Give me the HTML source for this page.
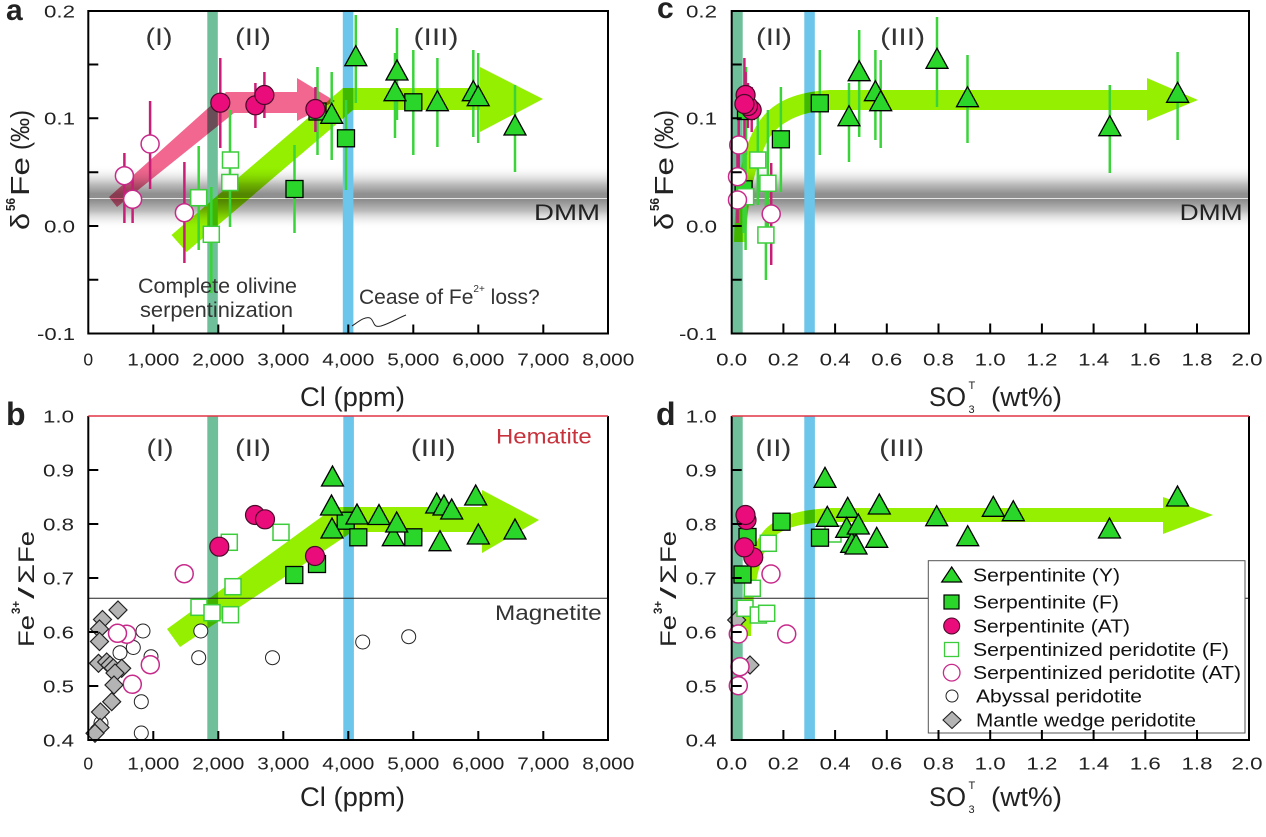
<!DOCTYPE html>
<html><head><meta charset="utf-8"><style>
html,body{margin:0;padding:0;background:#fff;}
svg{display:block;font-family:"Liberation Sans",Arial,sans-serif;}
.tk{font-size:17.5px;fill:#222;}
.rn{font-size:24px;fill:#333;}
.at{font-size:27px;fill:#222;}
.lg{font-size:18px;fill:#111;}
.ge{stroke:#3ad43a;stroke-width:2.5;}
.pe{stroke:#c81e78;stroke-width:2.5;}
.ar{mix-blend-mode:multiply;}
</style></head><body>
<svg width="1266" height="837" viewBox="0 0 1266 837" xmlns="http://www.w3.org/2000/svg">
<defs>
<linearGradient id="dmm" x1="0" y1="0" x2="0" y2="1">
<stop offset="0" stop-color="#fff" stop-opacity="0"/>
<stop offset="0.3" stop-color="#bdbdbd"/>
<stop offset="0.45" stop-color="#909090"/>
<stop offset="0.55" stop-color="#8e8e8e"/>
<stop offset="0.72" stop-color="#bdbdbd"/>
<stop offset="1" stop-color="#fff" stop-opacity="0"/>
</linearGradient>
<polygon id="tri" points="0,-11 -11,9 11,9" fill="#2ad62a" stroke="#000" stroke-width="1.3"/>
<rect id="sq" x="-8.5" y="-8.5" width="17" height="17" fill="#2ad62a" stroke="#000" stroke-width="1.3"/>
<circle id="pc" r="9.5" fill="#ea0c7a" stroke="#4a0a2a" stroke-width="1.2"/>
<rect id="osq" x="-8" y="-8" width="16" height="16" fill="#fff" stroke="#3ccc3c" stroke-width="1.5"/>
<circle id="opc" r="9" fill="#fff" stroke="#c82a8a" stroke-width="1.5"/>
<circle id="ac" r="7" fill="#fff" stroke="#222" stroke-width="1"/>
<polygon id="dia" points="0,-9 9,0 0,9 -9,0" fill="#b4b4b4" stroke="#222" stroke-width="1.2"/>
</defs>

<!-- ================= PANEL A ================= -->
<rect x="88.3" y="165" width="519.7" height="64" fill="url(#dmm)"/>
<line x1="88.3" y1="198.5" x2="608" y2="198.5" stroke="#e6e6e6" stroke-width="1"/>
<rect x="207.3" y="11" width="10.5" height="322.5" fill="#6fbf9a"/>
<rect x="342.8" y="11" width="10.6" height="322.5" fill="#6cc5ea"/>
<g class="ar"><polygon points="109,197 226,92 297,92 297,78 335,101 297,121 297,113 234,113 117,207" fill="#f2678f"/></g>
<g class="ar"><polygon points="171.5,235 343,88 480,88 480,67 543,99 480,132 480,110 353,110 186.5,252" fill="#94f000"/></g>
<line class="ge" x1="198.7" y1="146" x2="198.7" y2="250"/>
<line class="ge" x1="211.3" y1="187" x2="211.3" y2="293"/>
<line class="ge" x1="230" y1="110" x2="230" y2="227"/>
<line class="ge" x1="294.5" y1="145" x2="294.5" y2="233"/>
<line class="ge" x1="346" y1="100" x2="346" y2="190"/>
<line class="ge" x1="413.3" y1="50" x2="413.3" y2="155"/>
<line class="ge" x1="317.5" y1="67" x2="317.5" y2="155"/>
<line class="ge" x1="331.7" y1="72" x2="331.7" y2="160"/>
<line class="ge" x1="355.8" y1="15" x2="355.8" y2="103"/>
<line class="ge" x1="397" y1="28" x2="397" y2="120"/>
<line class="ge" x1="395" y1="53" x2="395" y2="138"/>
<line class="ge" x1="437.4" y1="58" x2="437.4" y2="147"/>
<line class="ge" x1="473.3" y1="50" x2="473.3" y2="137"/>
<line class="ge" x1="478.2" y1="53" x2="478.2" y2="143"/>
<line class="ge" x1="515" y1="85" x2="515" y2="172"/>
<line class="pe" x1="124.4" y1="153" x2="124.4" y2="223"/>
<line class="pe" x1="132.6" y1="173" x2="132.6" y2="223"/>
<line class="pe" x1="150.1" y1="101" x2="150.1" y2="189"/>
<line class="pe" x1="184.4" y1="162" x2="184.4" y2="263"/>
<line class="pe" x1="220.3" y1="58" x2="220.3" y2="148"/>
<line class="pe" x1="255.4" y1="83" x2="255.4" y2="128"/>
<line class="pe" x1="264.4" y1="72" x2="264.4" y2="118"/>
<line class="pe" x1="315.4" y1="87" x2="315.4" y2="132"/>
<use href="#opc" x="124.4" y="175.7"/>
<use href="#opc" x="132.6" y="199.3"/>
<use href="#opc" x="150.1" y="144"/>
<use href="#opc" x="184.4" y="212.7"/>
<use href="#osq" x="198.7" y="197.7"/>
<use href="#osq" x="211.3" y="234.3"/>
<use href="#osq" x="230.5" y="160"/>
<use href="#osq" x="229.8" y="182.5"/>
<use href="#sq" x="294.5" y="189"/>
<use href="#sq" x="346" y="138.3"/>
<use href="#sq" x="413.3" y="102.3"/>
<use href="#sq" x="317.5" y="111.5"/>
<use href="#pc" x="220.3" y="102.7"/>
<use href="#pc" x="255.4" y="105.3"/>
<use href="#pc" x="264.4" y="95"/>
<use href="#pc" x="315.4" y="109"/>
<use href="#tri" x="331.7" y="114.3"/>
<use href="#tri" x="355.8" y="56.7"/>
<use href="#tri" x="397" y="71"/>
<use href="#tri" x="395" y="91.7"/>
<use href="#tri" x="437.4" y="101.7"/>
<use href="#tri" x="473.3" y="91.7"/>
<use href="#tri" x="478.2" y="96.7"/>
<use href="#tri" x="515" y="126"/>
<text class="rn" x="159" y="45" text-anchor="middle" textLength="27" lengthAdjust="spacingAndGlyphs">(I)</text>
<text class="rn" x="253" y="45" text-anchor="middle" textLength="36" lengthAdjust="spacingAndGlyphs">(II)</text>
<text class="rn" x="436" y="45" text-anchor="middle" textLength="45" lengthAdjust="spacingAndGlyphs">(III)</text>
<text x="534" y="220" font-size="22" fill="#222" textLength="66" lengthAdjust="spacingAndGlyphs">DMM</text>
<text x="138" y="293" font-size="21" fill="#333" textLength="159" lengthAdjust="spacingAndGlyphs">Complete olivine</text>
<text x="140" y="317" font-size="21" fill="#333" textLength="153" lengthAdjust="spacingAndGlyphs">serpentinization</text>
<text x="359" y="304" font-size="21" fill="#333">Cease of Fe<tspan font-size="10" dy="-12">2+</tspan><tspan dy="12"> loss?</tspan></text>
<path d="M352,326 C358,322 365,316 370,318 C375,321 372,328 381,326 C391,323 398,318 406,315" fill="none" stroke="#222" stroke-width="1"/>
<rect x="88.3" y="11" width="519.7" height="322.5" fill="none" stroke="#000" stroke-width="2"/>
<path d="M153.3,333.5v-9M218.3,333.5v-9M283.3,333.5v-9M348.3,333.5v-9M413.3,333.5v-9M478.3,333.5v-9M543.3,333.5v-9M88.3,64.5h10M88.3,118.3h10M88.3,172.2h10M88.3,226h10M88.3,279.8h10" stroke="#000" stroke-width="2"/>
<g class="tk" text-anchor="middle">
<text x="88.3" y="365.5">0</text>
<text x="153.3" y="365.5" textLength="52" lengthAdjust="spacingAndGlyphs">1,000</text>
<text x="218.3" y="365.5" textLength="52" lengthAdjust="spacingAndGlyphs">2,000</text>
<text x="283.3" y="365.5" textLength="52" lengthAdjust="spacingAndGlyphs">3,000</text>
<text x="348.3" y="365.5" textLength="52" lengthAdjust="spacingAndGlyphs">4,000</text>
<text x="413.3" y="365.5" textLength="52" lengthAdjust="spacingAndGlyphs">5,000</text>
<text x="478.3" y="365.5" textLength="52" lengthAdjust="spacingAndGlyphs">6,000</text>
<text x="543.3" y="365.5" textLength="52" lengthAdjust="spacingAndGlyphs">7,000</text>
<text x="608.3" y="365.5" textLength="52" lengthAdjust="spacingAndGlyphs">8,000</text>
</g>
<g class="tk" text-anchor="end">
<text x="75" y="17.5" textLength="31" lengthAdjust="spacingAndGlyphs">0.2</text>
<text x="75" y="124.6" textLength="31" lengthAdjust="spacingAndGlyphs">0.1</text>
<text x="75" y="232.3" textLength="31" lengthAdjust="spacingAndGlyphs">0.0</text>
<text x="75" y="340" textLength="38" lengthAdjust="spacingAndGlyphs">-0.1</text>
</g>
<text class="at" x="300" y="406" textLength="105" lengthAdjust="spacingAndGlyphs">Cl (ppm)</text>
<g transform="translate(29,230) rotate(-90)" fill="#222">
<text x="0" y="0" font-size="26" textLength="17" lengthAdjust="spacingAndGlyphs">δ</text>
<text x="19" y="-14" font-size="13" font-weight="bold" textLength="13" lengthAdjust="spacingAndGlyphs">56</text>
<text x="34" y="0" font-size="26" textLength="39" lengthAdjust="spacingAndGlyphs">Fe</text>
<text x="80" y="0" font-size="26" textLength="40" lengthAdjust="spacingAndGlyphs">(‰)</text>
</g>
<text x="6" y="20" font-size="30" font-weight="bold" fill="#222">a</text>

<!-- ================= PANEL C ================= -->
<rect x="731.7" y="165" width="517.3" height="64" fill="url(#dmm)"/>
<line x1="731.7" y1="198.5" x2="1249" y2="198.5" stroke="#e6e6e6" stroke-width="1"/>
<rect x="731.7" y="11" width="11" height="322.5" fill="#6fbf9a"/>
<rect x="804.3" y="11" width="10.5" height="322.5" fill="#6cc5ea"/>
<g class="ar"><path d="M734,242 C735,190 742,150 755,128 C768,105 790,92 830,90 L1147,90 L1147,78 L1198,100 L1147,121 L1147,110 L830,110 C805,111 780,120 768,140 C755,165 747,200 746,242 Z" fill="#94f000"/></g>
<line class="ge" x1="859.2" y1="30" x2="859.2" y2="137"/>
<line class="ge" x1="849" y1="83" x2="849" y2="162"/>
<line class="ge" x1="875.4" y1="50" x2="875.4" y2="140"/>
<line class="ge" x1="880.7" y1="60" x2="880.7" y2="148"/>
<line class="ge" x1="937" y1="17" x2="937" y2="107"/>
<line class="ge" x1="967.5" y1="55" x2="967.5" y2="143"/>
<line class="ge" x1="1109.8" y1="85" x2="1109.8" y2="173"/>
<line class="ge" x1="1177.6" y1="52" x2="1177.6" y2="140"/>
<line class="ge" x1="819.8" y1="50" x2="819.8" y2="155"/>
<line class="ge" x1="780.9" y1="87" x2="780.9" y2="192"/>
<line class="ge" x1="743.6" y1="145" x2="743.6" y2="233"/>
<line class="ge" x1="746" y1="67" x2="746" y2="155"/>
<line class="ge" x1="757.8" y1="110" x2="757.8" y2="205"/>
<line class="ge" x1="767.9" y1="110" x2="767.9" y2="227"/>
<line class="ge" x1="765.9" y1="187" x2="765.9" y2="280"/>
<line class="ge" x1="745.6" y1="146" x2="745.6" y2="250"/>
<line class="pe" x1="745.6" y1="72" x2="745.6" y2="118"/>
<line class="pe" x1="744.4" y1="58" x2="744.4" y2="148"/>
<line class="pe" x1="751.7" y1="87" x2="751.7" y2="132"/>
<line class="pe" x1="748" y1="83" x2="748" y2="128"/>
<line class="pe" x1="738.7" y1="101" x2="738.7" y2="189"/>
<line class="pe" x1="737.5" y1="153" x2="737.5" y2="223"/>
<line class="pe" x1="737.5" y1="173" x2="737.5" y2="223"/>
<line class="pe" x1="771.2" y1="163" x2="771.2" y2="265"/>
<use href="#sq" x="743.6" y="189.3"/>
<use href="#osq" x="745.6" y="196.7"/>
<use href="#osq" x="757.8" y="160"/>
<use href="#osq" x="767.9" y="183.3"/>
<use href="#osq" x="765.9" y="235"/>
<use href="#opc" x="738.7" y="145"/>
<use href="#opc" x="737.5" y="176.7"/>
<use href="#opc" x="737.5" y="200"/>
<use href="#opc" x="771.2" y="214"/>
<use href="#sq" x="746" y="111"/>
<use href="#sq" x="780.9" y="139.3"/>
<use href="#sq" x="819.8" y="103.3"/>
<use href="#pc" x="751.7" y="110"/>
<use href="#pc" x="748" y="106"/>
<use href="#pc" x="745.6" y="95"/>
<use href="#pc" x="744.4" y="104"/>
<use href="#tri" x="859.2" y="71.7"/>
<use href="#tri" x="849" y="116.7"/>
<use href="#tri" x="875.4" y="91.7"/>
<use href="#tri" x="880.7" y="101.7"/>
<use href="#tri" x="937" y="59.3"/>
<use href="#tri" x="967.5" y="97.7"/>
<use href="#tri" x="1109.8" y="126.7"/>
<use href="#tri" x="1177.6" y="93.3"/>
<text class="rn" x="774" y="45" text-anchor="middle" textLength="36" lengthAdjust="spacingAndGlyphs">(II)</text>
<text class="rn" x="902.6" y="45" text-anchor="middle" textLength="45" lengthAdjust="spacingAndGlyphs">(III)</text>
<text x="1179.6" y="220" font-size="22" fill="#222" textLength="63" lengthAdjust="spacingAndGlyphs">DMM</text>
<rect x="731.7" y="11" width="517.3" height="322.5" fill="none" stroke="#000" stroke-width="2"/>
<path d="M783.4,333.5v-10M835.1,333.5v-10M886.8,333.5v-10M938.5,333.5v-10M990.2,333.5v-10M1041.9,333.5v-10M1093.6,333.5v-10M1145.3,333.5v-10M1197,333.5v-10M731.7,64.5h10M731.7,118.3h10M731.7,172.2h10M731.7,226h10M731.7,279.8h10" stroke="#000" stroke-width="2"/>
<g class="tk" text-anchor="middle">
<text x="731.7" y="365.5" textLength="31" lengthAdjust="spacingAndGlyphs">0.0</text>
<text x="783.4" y="365.5" textLength="31" lengthAdjust="spacingAndGlyphs">0.2</text>
<text x="835.1" y="365.5" textLength="31" lengthAdjust="spacingAndGlyphs">0.4</text>
<text x="886.8" y="365.5" textLength="31" lengthAdjust="spacingAndGlyphs">0.6</text>
<text x="938.5" y="365.5" textLength="31" lengthAdjust="spacingAndGlyphs">0.8</text>
<text x="990.2" y="365.5" textLength="31" lengthAdjust="spacingAndGlyphs">1.0</text>
<text x="1041.9" y="365.5" textLength="31" lengthAdjust="spacingAndGlyphs">1.2</text>
<text x="1093.6" y="365.5" textLength="31" lengthAdjust="spacingAndGlyphs">1.4</text>
<text x="1145.3" y="365.5" textLength="31" lengthAdjust="spacingAndGlyphs">1.6</text>
<text x="1197" y="365.5" textLength="31" lengthAdjust="spacingAndGlyphs">1.8</text>
<text x="1247" y="365.5" textLength="31" lengthAdjust="spacingAndGlyphs">2.0</text>
</g>
<g class="tk" text-anchor="end">
<text x="717" y="17.5" textLength="31" lengthAdjust="spacingAndGlyphs">0.2</text>
<text x="717" y="124.6" textLength="31" lengthAdjust="spacingAndGlyphs">0.1</text>
<text x="717" y="232.3" textLength="31" lengthAdjust="spacingAndGlyphs">0.0</text>
<text x="717" y="340" textLength="38" lengthAdjust="spacingAndGlyphs">-0.1</text>
</g>
<text class="at" x="929" y="406" textLength="37" lengthAdjust="spacingAndGlyphs">SO</text>
<text x="968.5" y="413" font-size="11" fill="#222">3</text>
<text x="968.5" y="389" font-size="11" fill="#222">T</text>
<text class="at" x="991" y="406" textLength="71" lengthAdjust="spacingAndGlyphs">(wt%)</text>
<g transform="translate(673,230) rotate(-90)" fill="#222">
<text x="0" y="0" font-size="26" textLength="17" lengthAdjust="spacingAndGlyphs">δ</text>
<text x="19" y="-14" font-size="13" font-weight="bold" textLength="13" lengthAdjust="spacingAndGlyphs">56</text>
<text x="34" y="0" font-size="26" textLength="39" lengthAdjust="spacingAndGlyphs">Fe</text>
<text x="80" y="0" font-size="26" textLength="40" lengthAdjust="spacingAndGlyphs">(‰)</text>
</g>
<text x="657" y="18" font-size="30" font-weight="bold" fill="#222">c</text>

<!-- ================= PANEL B ================= -->
<rect x="207.3" y="416" width="10.8" height="324" fill="#6fbf9a"/>
<rect x="343.3" y="416" width="10.6" height="324" fill="#6cc5ea"/>
<g class="ar"><polygon points="167,629 335,507 482,507 482,490 539,520 482,553 482,532 352,532 180,647" fill="#94f000"/></g>
<line x1="88.3" y1="598.3" x2="608" y2="598.3" stroke="#222" stroke-width="1"/>
<use href="#ac" x="143" y="631"/>
<use href="#ac" x="133.3" y="647.5"/>
<use href="#ac" x="120" y="652.7"/>
<use href="#ac" x="151" y="656.7"/>
<use href="#ac" x="141.3" y="701.7"/>
<use href="#ac" x="141.3" y="733"/>
<use href="#ac" x="200.8" y="631"/>
<use href="#ac" x="198.7" y="657.7"/>
<use href="#ac" x="272.5" y="657.7"/>
<use href="#ac" x="362.7" y="642"/>
<use href="#ac" x="408.7" y="636.7"/>
<use href="#ac" x="101" y="723"/>
<use href="#opc" x="184.2" y="573.7"/>
<use href="#opc" x="126.7" y="634.2"/>
<use href="#opc" x="117.5" y="633.3"/>
<use href="#opc" x="150.3" y="664.7"/>
<use href="#opc" x="132.3" y="684.3"/>
<use href="#dia" x="118" y="610"/>
<use href="#dia" x="102.5" y="619.5"/>
<use href="#dia" x="99.5" y="629"/>
<use href="#dia" x="99.5" y="641.5"/>
<use href="#dia" x="98.5" y="663.3"/>
<use href="#dia" x="106.7" y="662"/>
<use href="#dia" x="110" y="665"/>
<use href="#dia" x="113.3" y="668"/>
<use href="#dia" x="121.7" y="668.3"/>
<use href="#dia" x="115" y="673"/>
<use href="#dia" x="114" y="685"/>
<use href="#dia" x="111.7" y="701.7"/>
<use href="#dia" x="100.5" y="712"/>
<use href="#dia" x="100" y="727.5"/>
<use href="#dia" x="95" y="733.3"/>
<use href="#osq" x="229.3" y="542.3"/>
<use href="#osq" x="281" y="532.3"/>
<use href="#osq" x="233" y="586.7"/>
<use href="#osq" x="199" y="607.3"/>
<use href="#osq" x="212" y="612.7"/>
<use href="#osq" x="230.5" y="614.7"/>
<use href="#sq" x="294.3" y="575"/>
<use href="#sq" x="317" y="564"/>
<use href="#sq" x="345.7" y="520.7"/>
<use href="#sq" x="358.3" y="537.3"/>
<use href="#sq" x="413.3" y="537.3"/>
<use href="#pc" x="219.3" y="546.7"/>
<use href="#pc" x="255" y="515"/>
<use href="#pc" x="265" y="519.3"/>
<use href="#pc" x="315" y="556"/>
<use href="#tri" x="332.5" y="477"/>
<use href="#tri" x="331.5" y="506"/>
<use href="#tri" x="332" y="529"/>
<use href="#tri" x="357" y="515"/>
<use href="#tri" x="379" y="515.5"/>
<use href="#tri" x="393.3" y="536.7"/>
<use href="#tri" x="396.7" y="523"/>
<use href="#tri" x="436.7" y="504"/>
<use href="#tri" x="444" y="506"/>
<use href="#tri" x="451.7" y="510"/>
<use href="#tri" x="475.7" y="496"/>
<use href="#tri" x="440" y="541.7"/>
<use href="#tri" x="478.3" y="535"/>
<use href="#tri" x="515" y="530"/>
<text class="rn" x="160" y="456" text-anchor="middle" textLength="27" lengthAdjust="spacingAndGlyphs">(I)</text>
<text class="rn" x="253" y="456" text-anchor="middle" textLength="36" lengthAdjust="spacingAndGlyphs">(II)</text>
<text class="rn" x="433.3" y="456" text-anchor="middle" textLength="45" lengthAdjust="spacingAndGlyphs">(III)</text>
<text x="496" y="443.5" font-size="21" fill="#c8323c" textLength="95.7" lengthAdjust="spacingAndGlyphs">Hematite</text>
<text x="495" y="620" font-size="21" fill="#333" textLength="106.7" lengthAdjust="spacingAndGlyphs">Magnetite</text>
<path d="M88.3,416 V740 H608 V416" fill="none" stroke="#000" stroke-width="2"/>
<line x1="88.3" y1="416" x2="608" y2="416" stroke="#e03545" stroke-width="1.5"/>
<path d="M153.3,740v-9M218.3,740v-9M283.3,740v-9M348.3,740v-9M413.3,740v-9M478.3,740v-9M543.3,740v-9M88.3,470h10M88.3,524h10M88.3,578h10M88.3,632h10M88.3,686h10" stroke="#000" stroke-width="2"/>
<g class="tk" text-anchor="middle">
<text x="88.3" y="769.5">0</text>
<text x="153.3" y="769.5" textLength="52" lengthAdjust="spacingAndGlyphs">1,000</text>
<text x="218.3" y="769.5" textLength="52" lengthAdjust="spacingAndGlyphs">2,000</text>
<text x="283.3" y="769.5" textLength="52" lengthAdjust="spacingAndGlyphs">3,000</text>
<text x="348.3" y="769.5" textLength="52" lengthAdjust="spacingAndGlyphs">4,000</text>
<text x="413.3" y="769.5" textLength="52" lengthAdjust="spacingAndGlyphs">5,000</text>
<text x="478.3" y="769.5" textLength="52" lengthAdjust="spacingAndGlyphs">6,000</text>
<text x="543.3" y="769.5" textLength="52" lengthAdjust="spacingAndGlyphs">7,000</text>
<text x="608.3" y="769.5" textLength="52" lengthAdjust="spacingAndGlyphs">8,000</text>
</g>
<g class="tk" text-anchor="end">
<text x="74" y="422.3" textLength="31" lengthAdjust="spacingAndGlyphs">1.0</text>
<text x="74" y="476.3" textLength="31" lengthAdjust="spacingAndGlyphs">0.9</text>
<text x="74" y="530.3" textLength="31" lengthAdjust="spacingAndGlyphs">0.8</text>
<text x="74" y="584.3" textLength="31" lengthAdjust="spacingAndGlyphs">0.7</text>
<text x="74" y="638.3" textLength="31" lengthAdjust="spacingAndGlyphs">0.6</text>
<text x="74" y="692.3" textLength="31" lengthAdjust="spacingAndGlyphs">0.5</text>
<text x="74" y="746.3" textLength="31" lengthAdjust="spacingAndGlyphs">0.4</text>
</g>
<text class="at" x="300" y="806" textLength="105" lengthAdjust="spacingAndGlyphs">Cl (ppm)</text>
<g transform="translate(34,647) rotate(-90)" fill="#222">
<text x="0" y="0" font-size="22" textLength="32" lengthAdjust="spacingAndGlyphs">Fe</text>
<text x="33" y="-14" font-size="12" font-weight="bold" textLength="13" lengthAdjust="spacingAndGlyphs">3+</text>
<text x="48" y="0" font-size="22" textLength="12" lengthAdjust="spacingAndGlyphs">/</text>
<text x="63" y="0" font-size="22" textLength="20" lengthAdjust="spacingAndGlyphs">Σ</text>
<text x="84" y="0" font-size="22" textLength="32" lengthAdjust="spacingAndGlyphs">Fe</text>
</g>
<text x="6" y="425" font-size="32" font-weight="bold" fill="#222">b</text>

<!-- ================= PANEL D ================= -->
<rect x="731.7" y="416" width="11" height="324" fill="#6fbf9a"/>
<rect x="804.3" y="416" width="10.6" height="324" fill="#6cc5ea"/>
<g class="ar"><path d="M741,636 C742,580 750,540 770,525 C785,514 800,510 830,508 L1163,508 L1163,497 L1213,515 L1163,534 L1163,522 L830,522 C800,523 785,528 775,536 C760,550 752,590 751,636 Z" fill="#94f000"/></g>
<line x1="731.7" y1="598.3" x2="1249" y2="598.3" stroke="#222" stroke-width="1"/>
<use href="#dia" x="736.7" y="620"/>
<use href="#dia" x="750" y="665"/>
<use href="#opc" x="771" y="574"/>
<use href="#opc" x="738.3" y="634"/>
<use href="#opc" x="786.7" y="634"/>
<use href="#opc" x="740" y="666.7"/>
<use href="#opc" x="738.3" y="685.7"/>
<use href="#osq" x="768.3" y="543.3"/>
<use href="#osq" x="752.3" y="588.3"/>
<use href="#osq" x="745" y="608.3"/>
<use href="#osq" x="758.3" y="615"/>
<use href="#osq" x="766.7" y="613.3"/>
<use href="#osq" x="833" y="534"/>
<use href="#sq" x="781.5" y="521.7"/>
<use href="#sq" x="820" y="537.7"/>
<use href="#sq" x="747.5" y="537"/>
<use href="#sq" x="742.5" y="574.5"/>
<use href="#pc" x="746.5" y="520"/>
<use href="#pc" x="745.5" y="515"/>
<use href="#pc" x="753.3" y="557.3"/>
<use href="#pc" x="744.3" y="547.3"/>
<use href="#tri" x="825" y="478.3"/>
<use href="#tri" x="827.3" y="517.3"/>
<use href="#tri" x="847.7" y="508.3"/>
<use href="#tri" x="879.3" y="505"/>
<use href="#tri" x="846.7" y="528.3"/>
<use href="#tri" x="851.7" y="543.3"/>
<use href="#tri" x="856" y="545"/>
<use href="#tri" x="858.3" y="525"/>
<use href="#tri" x="876.7" y="538.3"/>
<use href="#tri" x="936.7" y="516.7"/>
<use href="#tri" x="967.7" y="536.7"/>
<use href="#tri" x="993.3" y="507.3"/>
<use href="#tri" x="1013.3" y="511.7"/>
<use href="#tri" x="1109.5" y="529"/>
<use href="#tri" x="1177.5" y="497"/>
<text class="rn" x="773.3" y="456" text-anchor="middle" textLength="36" lengthAdjust="spacingAndGlyphs">(II)</text>
<text class="rn" x="901.7" y="456" text-anchor="middle" textLength="45" lengthAdjust="spacingAndGlyphs">(III)</text>
<rect x="928.3" y="560.7" width="316.7" height="172.3" fill="#fff" stroke="#555" stroke-width="1"/>
<polygon points="951.7,567 941.7,582 961.7,582" fill="#2ad62a" stroke="#000" stroke-width="1.2"/>
<rect x="944" y="595" width="15" height="14" fill="#2ad62a" stroke="#000" stroke-width="1.2"/>
<circle cx="951.7" cy="626" r="8" fill="#ea0c7a" stroke="#4a0a2a" stroke-width="1.1"/>
<rect x="944.5" y="642.5" width="14" height="14" fill="#fff" stroke="#3ccc3c" stroke-width="1.3"/>
<circle cx="951.7" cy="672.7" r="8.3" fill="#fff" stroke="#c82a8a" stroke-width="1.3"/>
<circle cx="952" cy="696" r="6" fill="#fff" stroke="#222" stroke-width="1"/>
<polygon points="952,711.5 961,720 952,728.5 943,720" fill="#b4b4b4" stroke="#222" stroke-width="1.1"/>
<text class="lg" x="973" y="581.5" textLength="147" lengthAdjust="spacingAndGlyphs">Serpentinite (Y)</text>
<text class="lg" x="973" y="608.5" textLength="146" lengthAdjust="spacingAndGlyphs">Serpentinite (F)</text>
<text class="lg" x="973" y="632.5" textLength="157" lengthAdjust="spacingAndGlyphs">Serpentinite (AT)</text>
<text class="lg" x="973" y="655.8" textLength="256" lengthAdjust="spacingAndGlyphs">Serpentinized peridotite (F)</text>
<text class="lg" x="973" y="679.2" textLength="268" lengthAdjust="spacingAndGlyphs">Serpentinized peridotite (AT)</text>
<text class="lg" x="976" y="702.5" textLength="166" lengthAdjust="spacingAndGlyphs">Abyssal peridotite</text>
<text class="lg" x="976" y="726.5" textLength="220" lengthAdjust="spacingAndGlyphs">Mantle wedge peridotite</text>
<path d="M731.7,416 V740 H1249 V416" fill="none" stroke="#000" stroke-width="2"/>
<line x1="731.7" y1="416" x2="1249" y2="416" stroke="#e03545" stroke-width="1.5"/>
<path d="M783.4,740v-10M835.1,740v-10M886.8,740v-10M938.5,740v-10M990.2,740v-10M1041.9,740v-10M1093.6,740v-10M1145.3,740v-10M1197,740v-10M731.7,470h10M731.7,524h10M731.7,578h10M731.7,632h10M731.7,686h10" stroke="#000" stroke-width="2"/>
<g class="tk" text-anchor="middle">
<text x="731.7" y="769.5" textLength="31" lengthAdjust="spacingAndGlyphs">0.0</text>
<text x="783.4" y="769.5" textLength="31" lengthAdjust="spacingAndGlyphs">0.2</text>
<text x="835.1" y="769.5" textLength="31" lengthAdjust="spacingAndGlyphs">0.4</text>
<text x="886.8" y="769.5" textLength="31" lengthAdjust="spacingAndGlyphs">0.6</text>
<text x="938.5" y="769.5" textLength="31" lengthAdjust="spacingAndGlyphs">0.8</text>
<text x="990.2" y="769.5" textLength="31" lengthAdjust="spacingAndGlyphs">1.0</text>
<text x="1041.9" y="769.5" textLength="31" lengthAdjust="spacingAndGlyphs">1.2</text>
<text x="1093.6" y="769.5" textLength="31" lengthAdjust="spacingAndGlyphs">1.4</text>
<text x="1145.3" y="769.5" textLength="31" lengthAdjust="spacingAndGlyphs">1.6</text>
<text x="1197" y="769.5" textLength="31" lengthAdjust="spacingAndGlyphs">1.8</text>
<text x="1247" y="769.5" textLength="31" lengthAdjust="spacingAndGlyphs">2.0</text>
</g>
<g class="tk" text-anchor="end">
<text x="716.7" y="422.3" textLength="31" lengthAdjust="spacingAndGlyphs">1.0</text>
<text x="716.7" y="476.3" textLength="31" lengthAdjust="spacingAndGlyphs">0.9</text>
<text x="716.7" y="530.3" textLength="31" lengthAdjust="spacingAndGlyphs">0.8</text>
<text x="716.7" y="584.3" textLength="31" lengthAdjust="spacingAndGlyphs">0.7</text>
<text x="716.7" y="638.3" textLength="31" lengthAdjust="spacingAndGlyphs">0.6</text>
<text x="716.7" y="692.3" textLength="31" lengthAdjust="spacingAndGlyphs">0.5</text>
<text x="716.7" y="746.3" textLength="31" lengthAdjust="spacingAndGlyphs">0.4</text>
</g>
<text class="at" x="929" y="806" textLength="37" lengthAdjust="spacingAndGlyphs">SO</text>
<text x="968.5" y="813" font-size="11" fill="#222">3</text>
<text x="968.5" y="789" font-size="11" fill="#222">T</text>
<text class="at" x="991" y="806" textLength="71" lengthAdjust="spacingAndGlyphs">(wt%)</text>
<g transform="translate(676,647) rotate(-90)" fill="#222">
<text x="0" y="0" font-size="22" textLength="32" lengthAdjust="spacingAndGlyphs">Fe</text>
<text x="33" y="-14" font-size="12" font-weight="bold" textLength="13" lengthAdjust="spacingAndGlyphs">3+</text>
<text x="48" y="0" font-size="22" textLength="12" lengthAdjust="spacingAndGlyphs">/</text>
<text x="63" y="0" font-size="22" textLength="20" lengthAdjust="spacingAndGlyphs">Σ</text>
<text x="84" y="0" font-size="22" textLength="32" lengthAdjust="spacingAndGlyphs">Fe</text>
</g>
<text x="656" y="425" font-size="32" font-weight="bold" fill="#222">d</text>
</svg>
</body></html>
